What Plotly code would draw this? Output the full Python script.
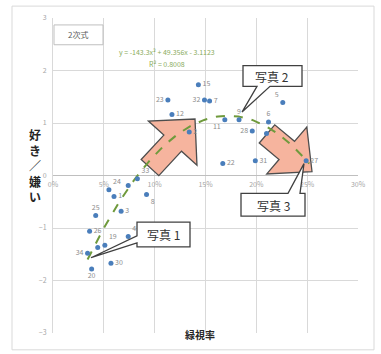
import plotly.graph_objects as go
import numpy as np

# ---------------- data ----------------
labels = ["1", "2", "3", "4", "5", "6", "7", "8", "9", "11", "12", "15", "19", "20",
          "22", "23", "24", "25", "26", "27", "28", "30", "31", "32", "33", "34", "", "", ""]
green_ratio = [0.060, 0.134, 0.067, 0.074, 0.226, 0.212, 0.154, 0.092, 0.183, 0.169, 0.117, 0.143,
               0.051, 0.038, 0.167, 0.113, 0.055, 0.042, 0.036, 0.249, 0.196, 0.057, 0.199, 0.149,
               0.083, 0.034, 0.044, 0.074, 0.210]
preference = [-0.40, 0.83, -0.68, -1.16, 1.39, 1.02, 1.42, -0.36, 1.06, 1.06, 1.16, 1.73,
              -1.33, -1.78, 0.23, 1.44, -0.27, -0.76, -1.06, 0.28, 0.85, -1.67, 0.28, 1.44,
              -0.06, -1.48, -1.37, -0.19, 0.80]
label_pos = ["middle right", "middle right", "middle right", "top right", "top left", "top center",
             "middle right", "bottom right", "top center", "bottom left", "middle right", "middle right",
             "top right", "bottom center", "middle right", "middle left", "top right", "top center",
             "middle right", "middle right", "middle left", "middle right", "middle right", "middle left",
             "top right", "middle left", "middle right", "middle right", "middle right"]

# quadratic trendline coefficients as printed on the chart
trend_coef = [-143.3, 49.356, -3.1123]
trend_range = [0.034, 0.252]
eq_text = "y = -143.3x² + 49.356x - 3.1123"
r2_text = "R² = 0.8008"

x_ticks = [0, 0.05, 0.10, 0.15, 0.20, 0.25, 0.30]
y_ticks = [-3, -2, -1, 0, 1, 2, 3]

# ---------------- geometry helpers (decorations only) ----------------
W, H = 381, 354
PL, PR, PT, PB = 53, 358, 15, 333
XR = [0, 0.30]
YR = [-3, 3]


def p2d(px, py):
    x = XR[0] + (px - PL) / (PR - PL) * (XR[1] - XR[0])
    y = YR[1] - (py - PT) / (PB - PT) * (YR[1] - YR[0])
    return x, y


def path_from_px(pts):
    d = []
    for i, (px, py) in enumerate(pts):
        x, y = p2d(px, py)
        d.append(("M" if i == 0 else "L") + f"{x:.5f},{y:.5f}")
    return " ".join(d) + " Z"


def block_arrow(tail, tip, head_len, head_hw, shaft_hw):
    T = np.array(tail, float)
    P = np.array(tip, float)
    u = (P - T) / np.linalg.norm(P - T)
    n = np.array([-u[1], u[0]])
    B = P - u * head_len
    pts = [T + n * shaft_hw, B + n * shaft_hw, B + n * head_hw, P,
           B - n * head_hw, B - n * shaft_hw, T - n * shaft_hw]
    return [tuple(p) for p in pts]


FONT = "Noto Sans CJK JP"

fig = go.Figure()

# trendline
xs = np.linspace(trend_range[0], trend_range[1], 120)
ys = np.polyval(trend_coef, xs)
fig.add_trace(go.Scatter(x=xs, y=ys, mode="lines",
                         line=dict(color="#6f9a3c", width=2, dash="dash"),
                         hoverinfo="skip", showlegend=False))

# points
fig.add_trace(go.Scatter(x=green_ratio, y=preference, mode="markers+text",
                         text=labels, textposition=label_pos,
                         textfont=dict(size=7, color="#8c8c8c", family=FONT),
                         marker=dict(size=5, color="#4a7ebb"),
                         showlegend=False))

shapes = []
# outer chart border
shapes.append(dict(type="rect", xref="paper", yref="paper",
                   x0=(12 - PL) / (PR - PL), x1=(374 - PL) / (PR - PL),
                   y0=(PB - 350) / (PB - PT), y1=(PB - 3) / (PB - PT),
                   line=dict(color="#d9d9d9", width=1), layer="below"))

# big salmon arrows
arrow_fill = "#f6b49e"
for tail, tip, hl, hhw, shw in [((150, 166), (195, 117), 33, 33, 12),
                                ((267, 132), (312, 170), 33, 31, 12)]:
    shapes.append(dict(type="path", xref="x", yref="y",
                       path=path_from_px(block_arrow(tail, tip, hl, hhw, shw)),
                       fillcolor=arrow_fill, line=dict(color="#4d4d4d", width=1.3),
                       layer="between"))

# callouts
callouts = [
    [(137, 221), (190, 221), (190, 246), (137, 246), (137, 242), (91, 257), (137, 235)],
    [(243, 63), (302, 63), (302, 84), (270, 84), (242, 110), (257, 84), (243, 84)],
    [(241, 192), (288, 192), (304, 162), (300, 192), (305, 192), (305, 215), (241, 215)],
]
for pts in callouts:
    shapes.append(dict(type="path", xref="x", yref="y", path=path_from_px(pts),
                       fillcolor="white", line=dict(color="#404040", width=1.3),
                       layer="above"))

# "2次式" box
shapes.append(dict(type="rect", xref="x", yref="y",
                   x0=p2d(54, 0)[0], x1=p2d(103, 0)[0],
                   y0=p2d(0, 42)[1], y1=p2d(0, 22)[1],
                   fillcolor="white", line=dict(color="#bfbfbf", width=1), layer="above"))

annotations = []
for txt, (cx, cy) in [("写真 1", (163, 234)), ("写真 2", (272, 74)), ("写真 3", (273, 204))]:
    x, y = p2d(cx, cy)
    annotations.append(dict(x=x, y=y, xref="x", yref="y", text=txt, showarrow=False,
                            font=dict(size=12, color="#333333", family=FONT)))

x, y = p2d(78, 32)
annotations.append(dict(x=x, y=y, xref="x", yref="y", text="2次式", showarrow=False,
                        font=dict(size=8, color="#595959", family=FONT)))
x, y = p2d(167, 49)
annotations.append(dict(x=x, y=y, xref="x", yref="y", text=eq_text, showarrow=False,
                        font=dict(size=7, color="#8aac5e", family=FONT)))
x, y = p2d(167, 61)
annotations.append(dict(x=x, y=y, xref="x", yref="y", text=r2_text, showarrow=False,
                        font=dict(size=7, color="#8aac5e", family=FONT)))

# axis titles
annotations.append(dict(x=(27 - PL) / (PR - PL), y=(PB - 164) / (PB - PT), xref="paper", yref="paper",
                        text="<b>好<br>き<br>／<br>嫌<br>い</b>", showarrow=False,
                        font=dict(size=12, color="#262626", family=FONT)))
annotations.append(dict(x=(200 - PL) / (PR - PL), y=(PB - 344) / (PB - PT), xref="paper", yref="paper",
                        text="<b>緑視率</b>", showarrow=False,
                        font=dict(size=10, color="#262626", family=FONT)))

fig.update_layout(
    width=W, height=H,
    margin=dict(l=PL, r=W - PR, t=PT, b=H - PB),
    paper_bgcolor="white", plot_bgcolor="white",
    shapes=shapes, annotations=annotations,
    font=dict(family=FONT),
    xaxis=dict(range=XR, tickvals=x_ticks, tickformat=".0%",
               showgrid=True, gridcolor="#d9d9d9", gridwidth=1,
               zeroline=False, showline=False, ticks="",
               anchor="free", position=0.5, ticklabelstandoff=3,
               tickfont=dict(size=7, color="#a6a6a6")),
    yaxis=dict(range=YR, tickvals=y_ticks,
               showgrid=True, gridcolor="#d9d9d9", gridwidth=1,
               zeroline=True, zerolinecolor="#bfbfbf", zerolinewidth=1,
               showline=True, linecolor="#d9d9d9", ticks="", ticklabelstandoff=4,
               tickfont=dict(size=7, color="#a6a6a6")),
)

fig.write_html("out.html")
